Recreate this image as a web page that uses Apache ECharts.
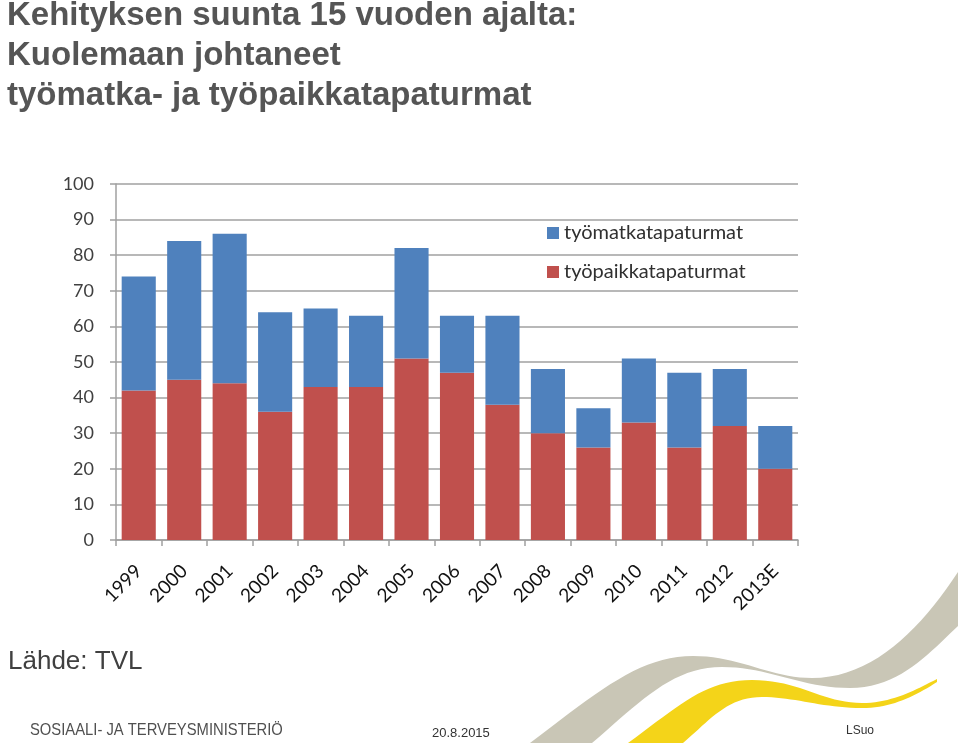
<!DOCTYPE html>
<html>
<head>
<meta charset="utf-8">
<script src="https://cdn.jsdelivr.net/npm/echarts@6/dist/echarts.min.js"></script>
<style>html,body{margin:0;padding:0;background:#fff}#c{width:960px;height:750px}</style>
</head>
<body>
<div id="c"></div>
<script>
var categories = ['1999','2000','2001','2002','2003','2004','2005','2006','2007','2008','2009','2010','2011','2012','2013E'];
var tyopaikka = [42,45,44,36,43,43,51,47,38,30,26,33,26,32,20];
var tyomatka = [32,39,42,28,22,20,31,16,25,18,11,18,21,16,12];
var yTicks = {min:0, max:100, interval:10};
var titleLines = ['Kehityksen suunta 15 vuoden ajalta:', 'Kuolemaan johtaneet', 'työmatka- ja työpaikkatapaturmat'];

// decorative swoosh outline helper (cubic bezier sampling)
function bez(segs){
  var pts = [];
  segs.forEach(function(s){
    for (var i=0;i<=20;i++){
      var t=i/20, u=1-t;
      pts.push([
        u*u*u*s[0][0]+3*u*u*t*s[1][0]+3*u*t*t*s[2][0]+t*t*t*s[3][0],
        u*u*u*s[0][1]+3*u*u*t*s[1][1]+3*u*t*t*s[2][1]+t*t*t*s[3][1]
      ]);
    }
  });
  return pts;
}
var grayShape = bez([
  [[530,743],[600,690],[640,656],[693,656]],
  [[693,656],[740,656],[770,678],[812,678]],
  [[812,678],[872,678],[920,630],[958,572]],
  [[958,626],[930,652],[900,688],[850,688]],
  [[850,688],[800,688],[770,667],[722,667]],
  [[722,667],[672,667],[640,702],[592,743]]
]);
var yellowShape = bez([
  [[628,743],[680,705],[705,680],[752,680]],
  [[752,680],[800,680],[822,703],[862,703]],
  [[862,703],[892,703],[915,690],[937,679]],
  [[937,682],[915,696],[892,708],[862,708]],
  [[862,708],[822,708],[795,697],[762,697]],
  [[762,697],[727,697],[710,720],[683,743]]
]);

var chart = echarts.init(document.getElementById('c'), null, {renderer:'canvas'});
var gridColor = '#a0a0a0';
chart.setOption({
  animation:false,
  backgroundColor:'#ffffff',
  title:{
    text:titleLines.join('\n'),
    left:2, top:-9,
    textStyle:{fontFamily:'Liberation Sans, Arial, sans-serif', fontWeight:'bold', fontSize:33, lineHeight:40, color:'#555555'}
  },
  legend:{
    data:['työmatkatapaturmat','työpaikkatapaturmat'],
    orient:'vertical', left:542, top:218, itemWidth:12, itemHeight:12, itemGap:19,
    textStyle:{fontFamily:'Lato, DejaVu Sans, sans-serif', fontSize:20, color:'#303030'},
    icon:'rect'
  },
  grid:{left:116, right:162, top:184, bottom:210, containLabel:false},
  xAxis:{
    type:'category', data:categories, boundaryGap:true,
    axisLine:{lineStyle:{color:gridColor, width:1.5}},
    axisTick:{show:true, length:6, lineStyle:{color:gridColor, width:1.5}},
    axisLabel:{rotate:45, fontFamily:'Lato, DejaVu Sans, sans-serif', fontSize:19, color:'#111111', margin:28}
  },
  yAxis:{
    type:'value', min:yTicks.min, max:yTicks.max, interval:yTicks.interval,
    axisLine:{show:true, lineStyle:{color:gridColor, width:1.5}},
    axisTick:{show:true, length:6, lineStyle:{color:gridColor, width:1.5}},
    splitLine:{lineStyle:{color:gridColor, width:1.5}},
    axisLabel:{fontFamily:'Lato, DejaVu Sans, sans-serif', fontSize:18, color:'#404040', margin:22}
  },
  series:[
    {name:'työpaikkatapaturmat', type:'bar', stack:'a', data:tyopaikka, barCategoryGap:'25%', itemStyle:{color:'#C0504D'}},
    {name:'työmatkatapaturmat', type:'bar', stack:'a', data:tyomatka, itemStyle:{color:'#4F81BD'}}
  ],
  graphic:[
    {type:'polygon', z:-1, shape:{points:grayShape}, style:{fill:'#c9c6b6'}},
    {type:'polygon', z:-1, shape:{points:yellowShape}, style:{fill:'#f4d419'}},
    {type:'text', left:8, top:649, style:{text:'Lähde: TVL', font:'26px Liberation Sans, Arial, sans-serif', fill:'#404040'}},
    {type:'text', x:30, y:722, scaleX:0.87, style:{text:'SOSIAALI- JA TERVEYSMINISTERIÖ', font:'17px Liberation Sans, Arial, sans-serif', fill:'#505050'}},
    {type:'text', left:432, top:727, style:{text:'20.8.2015', font:'13px Liberation Sans, Arial, sans-serif', fill:'#333'}},
    {type:'text', left:846, top:725, style:{text:'LSuo', font:'12px Liberation Sans, Arial, sans-serif', fill:'#333'}}
  ]
});
</script>
</body>
</html>
